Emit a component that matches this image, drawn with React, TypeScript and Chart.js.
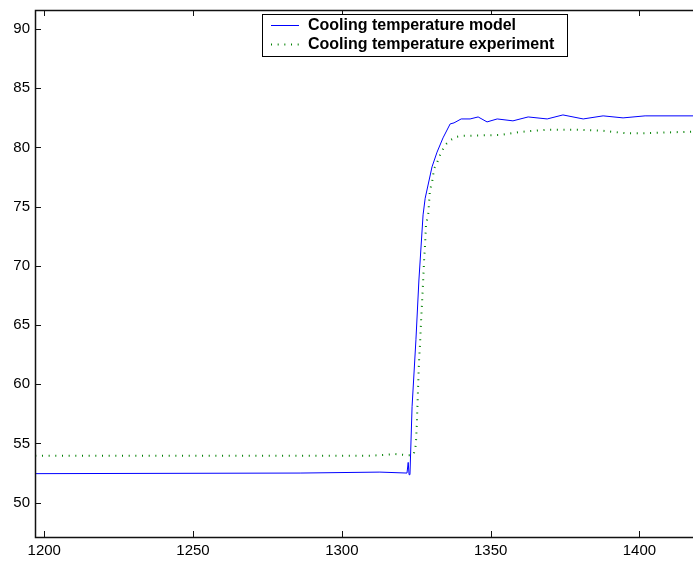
import React, { useEffect, useRef } from "react";
import { Chart, registerables } from "chart.js";

Chart.register(...registerables);

const modelLabel = "Cooling temperature model";
const expLabel = "Cooling temperature experiment";
const MODEL_COLOR = "rgb(0,0,255)";
const EXP_COLOR = "rgb(0,128,0)";
const EXP_DASH = [1, 5.67];

const modelX = [1197, 1286, 1312.8, 1321.9, 1322.3, 1322.6, 1322.9, 1323.6, 1324.9, 1325.9, 1327.3, 1328.0, 1330.3, 1332.0, 1334.0, 1336.4, 1337.7, 1340.1, 1343.1, 1345.8, 1348.8, 1352.2, 1357.5, 1362.6, 1369.0, 1374.3, 1381.1, 1387.8, 1394.5, 1401.9, 1420];
const modelY = [52.45, 52.5, 52.58, 52.5, 53.4, 52.36, 52.4, 58.1, 63.75, 68.8, 74.3, 75.7, 78.35, 79.6, 80.8, 81.98, 82.07, 82.4, 82.4, 82.57, 82.15, 82.4, 82.24, 82.57, 82.4, 82.74, 82.4, 82.66, 82.49, 82.66, 82.66];

const expX = [1197, 1310, 1318, 1322, 1324.0, 1324.6, 1324.9, 1325.2, 1325.6, 1325.9, 1326.3, 1326.6, 1326.96, 1327.3, 1327.6, 1328.0, 1328.3, 1329.0, 1329.6, 1330.3, 1331.0, 1332.0, 1332.7, 1333.7, 1334.7, 1336.4, 1338.7, 1340.7, 1353.2, 1359.9, 1368.3, 1379.1, 1387.8, 1395.2, 1402.6, 1420];
const expY = [53.97, 53.97, 54.1, 54.0, 54.0, 54.47, 54.98, 56.67, 59.5, 61.8, 63.5, 65.2, 66.9, 68.6, 70.25, 71.94, 73.6, 74.2, 76.4, 77.0, 78.2, 78.7, 79.2, 79.7, 80.2, 80.6, 80.9, 80.97, 81.05, 81.3, 81.48, 81.48, 81.4, 81.2, 81.2, 81.35];

const xTicks = [1200, 1250, 1300, 1350, 1400];
const yTicks = [50, 55, 60, 65, 70, 75, 80, 85, 90];

const X_MIN = 1196.9;
const X_MAX = 1418;
const Y_MIN = 47.1;
const Y_MAX = 91.6;

const TICK_FONT = { family: "'Liberation Sans', Arial, sans-serif", size: 15 };

const framePlugin = {
  id: "frameAndLegend",
  afterDraw(chart: any) {
    const { ctx, chartArea } = chart;
    const { left, right, top, bottom } = chartArea;
    const xs = chart.scales.x;
    const ys = chart.scales.y;
    ctx.save();
    ctx.strokeStyle = "#111";
    ctx.lineWidth = 1.5;
    ctx.beginPath();
    ctx.moveTo(right + 2, top + 0.5);
    ctx.lineTo(left + 0.5, top + 0.5);
    ctx.lineTo(left + 0.5, bottom + 0.5);
    ctx.lineTo(right + 2, bottom + 0.5);
    ctx.stroke();
    ctx.lineWidth = 1;
    ctx.beginPath();
    const tl = 6;
    xTicks.forEach((v) => {
      const px = Math.round(xs.getPixelForValue(v)) + 0.5;
      ctx.moveTo(px, bottom);
      ctx.lineTo(px, bottom - tl);
      ctx.moveTo(px, top);
      ctx.lineTo(px, top + tl);
    });
    yTicks.forEach((v) => {
      const py = Math.round(ys.getPixelForValue(v)) + 0.5;
      ctx.moveTo(left, py);
      ctx.lineTo(left + tl, py);
    });
    ctx.stroke();

    // legend
    const bx = 262.5, by = 14.5, bw = 305, bh = 42;
    ctx.fillStyle = "#fff";
    ctx.fillRect(bx, by, bw, bh);
    ctx.strokeStyle = "#000";
    ctx.lineWidth = 1;
    ctx.strokeRect(bx, by, bw, bh);
    const items = [
      { label: modelLabel, color: MODEL_COLOR, width: 1, dash: [] as number[] },
      { label: expLabel, color: EXP_COLOR, width: 2, dash: EXP_DASH },
    ];
    const rows = [25, 44];
    items.forEach((d, i) => {
      const y = rows[i];
      ctx.save();
      ctx.strokeStyle = d.color;
      ctx.lineWidth = d.width;
      ctx.setLineDash(d.dash);
      ctx.beginPath();
      ctx.moveTo(271, y + 0.5);
      ctx.lineTo(299, y + 0.5);
      ctx.stroke();
      ctx.restore();
      ctx.fillStyle = "#000";
      ctx.font = "bold 16px 'Liberation Sans', Arial, sans-serif";
      ctx.textBaseline = "middle";
      ctx.textAlign = "left";
      ctx.fillText(d.label, 308, y + 1);
    });
    ctx.restore();
  },
};

export default function App() {
  const ref = useRef<HTMLCanvasElement | null>(null);
  useEffect(() => {
    if (!ref.current) return;
    const chart = new Chart(ref.current, {
      type: "line",
      data: {
        datasets: [
          {
            label: modelLabel,
            data: modelX.map((x, i) => ({ x, y: modelY[i] })),
            borderColor: MODEL_COLOR,
            borderWidth: 1,
            pointRadius: 0,
            tension: 0,
            fill: false,
          },
          {
            label: expLabel,
            data: expX.map((x, i) => ({ x, y: expY[i] })),
            borderColor: EXP_COLOR,
            borderWidth: 2,
            borderDash: EXP_DASH,
            borderCapStyle: "butt",
            pointRadius: 0,
            tension: 0,
            fill: false,
          },
        ],
      },
      options: {
        animation: false,
        responsive: false,
        maintainAspectRatio: false,
        layout: { padding: { top: 10, right: 0, left: 0, bottom: 0 } },
        plugins: { legend: { display: false }, tooltip: { enabled: false } },
        scales: {
          x: {
            type: "linear",
            min: X_MIN,
            max: X_MAX,
            grid: { display: false, drawTicks: false },
            border: { display: false },
            ticks: { color: "#000", font: TICK_FONT, padding: 5, maxRotation: 0, callback: (v: any) => String(v) },
            afterBuildTicks: (s: any) => {
              s.ticks = xTicks.map((v) => ({ value: v }));
            },
            afterFit: (s: any) => {
              s.height = 25;
              s.paddingLeft = 0;
              s.paddingRight = 0;
            },
          },
          y: {
            type: "linear",
            min: Y_MIN,
            max: Y_MAX,
            grid: { display: false, drawTicks: false },
            border: { display: false },
            ticks: { color: "#000", font: TICK_FONT, padding: 5, callback: (v: any) => String(v) },
            afterBuildTicks: (s: any) => {
              s.ticks = yTicks.map((v) => ({ value: v }));
            },
            afterFit: (s: any) => {
              s.width = 35;
              s.paddingTop = 0;
              s.paddingBottom = 0;
            },
          },
        },
      },
      plugins: [framePlugin],
    } as any);
    return () => chart.destroy();
  }, []);
  return (
    <div style={{ position: "absolute", left: 0, top: 0, width: 693, height: 562, background: "#fff" }}>
      <canvas ref={ref} width={693} height={562} style={{ display: "block" }} />
    </div>
  );
}
